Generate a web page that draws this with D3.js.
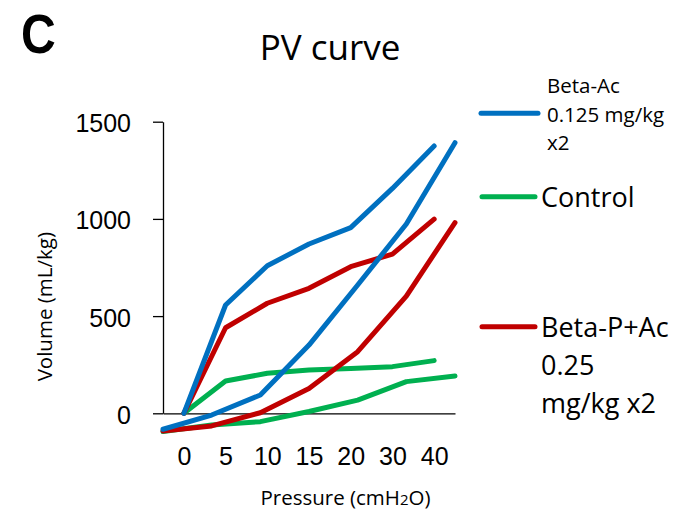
<!DOCTYPE html>
<html>
<head>
<meta charset="utf-8">
<script src="https://cdn.jsdelivr.net/npm/d3@7"></script>
<style>
  html, body { margin: 0; padding: 0; background: #fff; }
  svg { display: block; font-family: "Open Sans", "DejaVu Sans", sans-serif; }
</style>
</head>
<body>
<svg id="chart" width="690" height="514"></svg>
<script>
// Pressure steps (cmH2O)
const pressure = ["0", "5", "10", "15", "20", "30", "40"];

// Inflation (inspiratory) and deflation (expiratory) limbs, volume in mL/kg
const betaAcInsp   = [0, 557, 759, 871, 955, 1157, 1375];
const betaAcExp    = [-82, -9, 94, 351, 660, 974, 1392];
const controlInsp  = [0, 166, 206, 223, 231, 240, 271];
const controlExp   = [-94, -60, -43, 9, 68, 163, 192];
const betaPAcInsp  = [0, 440, 566, 643, 754, 819, 999];
const betaPAcExp   = [-91, -65, 3, 128, 317, 603, 981];

const yTicks = [0, 500, 1000, 1500];

const seriesNames  = ["Beta-Ac 0.125 mg/kg x2", "Control", "Beta-P+Ac 0.25 mg/kg x2"];
const seriesColors = ["#0070C0", "#00B050", "#C00000"];

const svg = d3.select("#chart");

const plot = { left: 163, right: 455, top: 121.7, bottom: 413.3 };

// Inflation points sit between tick marks; deflation points sit on tick marks
const xInsp = d3.scalePoint().domain(pressure).range([plot.left, plot.right]).padding(0.5);
const xExp  = d3.scalePoint().domain(pressure).range([plot.left, plot.right]).padding(0);
const y = d3.scaleLinear().domain([0, 1500]).range([plot.bottom, plot.top]);

// Panel letter and title
svg.append("text")
  .attr("transform", "translate(21,52.7) scale(0.86,1)")
  .attr("font-family", "'Liberation Sans', Arial, sans-serif")
  .attr("font-size", 56).attr("font-weight", "bold")
  .text("C");

svg.append("text")
  .attr("x", 330).attr("y", 60)
  .attr("text-anchor", "middle")
  .attr("font-size", 35)
  .text("PV curve");

// Y axis
const yAxis = svg.append("g")
  .attr("transform", `translate(${plot.left},0)`)
  .call(d3.axisLeft(y).tickValues(yTicks).tickFormat(d3.format("d"))
    .tickSize(10).tickSizeOuter(0).tickPadding(22));
yAxis.selectAll("path, line").attr("stroke", "#000").attr("stroke-width", 1.3);
yAxis.selectAll("text").attr("font-size", 25).attr("font-family", null).attr("fill", "#000").attr("dy", "0.4em");

// X axis at zero volume
const xAxis = svg.append("g")
  .attr("transform", `translate(0,${y(0)})`)
  .call(d3.axisBottom(xInsp).tickSize(0).tickSizeOuter(0).tickPadding(0));
xAxis.select(".domain").attr("stroke", "#000").attr("stroke-width", 1.3);
xAxis.selectAll("text")
  .attr("font-size", 25).attr("font-family", null).attr("fill", "#000")
  .attr("y", 52).attr("dy", 0);

// Axis titles
svg.append("text")
  .attr("transform", "translate(52,306.7) rotate(-90)")
  .attr("text-anchor", "middle")
  .attr("font-size", 20.5)
  .text("Volume (mL/kg)");

const xTitle = svg.append("text")
  .attr("x", 345.5).attr("y", 505)
  .attr("text-anchor", "middle")
  .attr("font-size", 20.5);
xTitle.append("tspan").text("Pressure (cmH");
xTitle.append("tspan").attr("font-size", 15).text("2");
xTitle.append("tspan").text("O)");

// Curves: control first, then Beta-P+Ac, then Beta-Ac on top
const lineInsp = d3.line().x((d, i) => xInsp(pressure[i])).y(d => y(d));
const lineExp  = d3.line().x((d, i) => xExp(pressure[i])).y(d => y(d));

const curves = [
  { insp: controlInsp, exp: controlExp, color: seriesColors[1] },
  { insp: betaPAcInsp, exp: betaPAcExp, color: seriesColors[2] },
  { insp: betaAcInsp,  exp: betaAcExp,  color: seriesColors[0] }
];

const g = svg.append("g");
curves.forEach(c => {
  [[c.exp, lineExp], [c.insp, lineInsp]].forEach(([vals, gen]) => {
    g.append("path")
      .datum(vals)
      .attr("d", gen)
      .attr("fill", "none")
      .attr("stroke", c.color)
      .attr("stroke-width", 5)
      .attr("stroke-linecap", "round")
      .attr("stroke-linejoin", "round");
  });
});

// Legend
const legendItems = [
  { color: seriesColors[0], lineY: 113.3, x1: 481, x2: 538, textX: 547, size: 20.5,
    lines: ["Beta-Ac", "0.125 mg/kg", "x2"], baselines: [93, 122, 150] },
  { color: seriesColors[1], lineY: 196.7, x1: 482, x2: 535, textX: 541, size: 27,
    lines: ["Control"], baselines: [206.7] },
  { color: seriesColors[2], lineY: 326.7, x1: 482, x2: 535, textX: 541, size: 27,
    lines: ["Beta-P+Ac", "0.25", "mg/kg x2"], baselines: [336.7, 375, 413] }
];

const legend = svg.append("g");
legendItems.forEach(it => {
  legend.append("line")
    .attr("x1", it.x1).attr("x2", it.x2)
    .attr("y1", it.lineY).attr("y2", it.lineY)
    .attr("stroke", it.color).attr("stroke-width", 5)
    .attr("stroke-linecap", "round");
  it.lines.forEach((t, i) => {
    legend.append("text")
      .attr("x", it.textX).attr("y", it.baselines[i])
      .attr("font-size", it.size)
      .text(t);
  });
});
</script>
</body>
</html>
